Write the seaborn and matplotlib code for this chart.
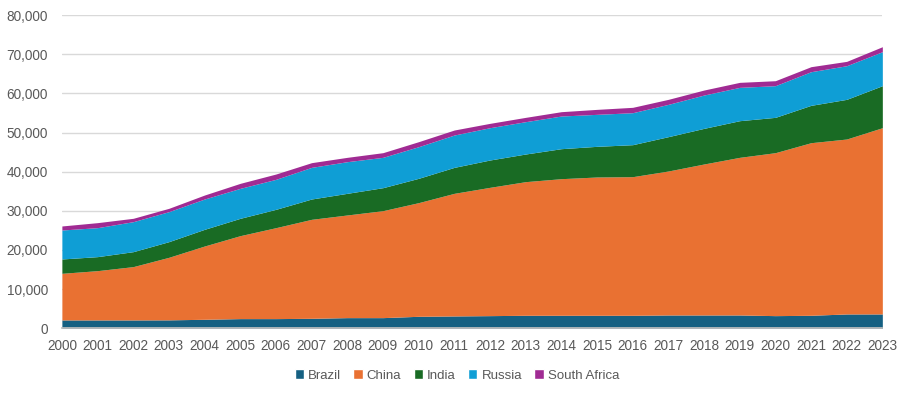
import numpy as np
import pandas as pd
import seaborn as sns
from matplotlib import pyplot as plt
from matplotlib.ticker import FuncFormatter, MultipleLocator
from matplotlib.patches import Patch

years = list(range(2000, 2024))
brazil = [2130, 2130, 2130, 2150, 2300, 2470, 2470, 2550, 2720, 2720, 3060, 3150,
          3230, 3320, 3320, 3320, 3320, 3400, 3400, 3400, 3230, 3320, 3660, 3660]
china = [11910, 12590, 13620, 15980, 18720, 21190, 23230, 25280, 26220, 27320, 29030, 31320,
         32770, 34130, 34890, 35320, 35400, 36770, 38560, 40260, 41620, 44080, 44680, 47570]
india = [3660, 3580, 3820, 4000, 4260, 4430, 4680, 5190, 5530, 5870, 6210, 6630,
         6980, 7060, 7660, 7830, 8170, 8770, 9100, 9360, 9020, 9540, 10130, 10730]
russia = [7400, 7400, 7660, 7660, 7740, 7650, 7660, 8080, 8080, 7750, 8080, 8260,
          8250, 8260, 8340, 8170, 8170, 8250, 8510, 8510, 8090, 8590, 8590, 8680]
south_africa = [1030, 1280, 860, 850, 1020, 1280, 1360, 1200, 1110, 1190, 1280, 1280,
                1110, 1100, 1110, 1270, 1370, 1280, 1280, 1280, 1270, 1280, 1110, 1270]

names = ['Brazil', 'China', 'India', 'Russia', 'South Africa']
colors = ['#156082', '#E97132', '#196B24', '#0F9ED5', '#A02B93']

df = pd.DataFrame({'Year': years, 'Brazil': brazil, 'China': china, 'India': india,
                   'Russia': russia, 'South Africa': south_africa})

sns.set_theme(style='white')
plt.rcParams['font.family'] = ['Liberation Sans', 'DejaVu Sans']
text_col = '#595959'

fig, ax = plt.subplots(figsize=(9.1, 3.96), dpi=100)
fig.subplots_adjust(left=0.068, right=0.9696, top=0.962, bottom=0.171)

ax.stackplot(df['Year'], [df[n] for n in names], colors=colors, linewidth=0)

ax.set_xlim(2000, 2023)
ax.set_ylim(0, 80000)
ax.yaxis.set_major_locator(MultipleLocator(10000))
ax.yaxis.set_major_formatter(FuncFormatter(lambda v, p: f'{int(v):,}'))
ax.set_xticks(years)
ax.grid(axis='y', color='#d9d9d9', linewidth=1)
ax.set_axisbelow(True)
for s in ['top', 'right', 'left']:
    ax.spines[s].set_visible(False)
ax.spines['bottom'].set_color('#bfbfbf')
ax.tick_params(axis='x', colors='#bfbfbf', length=4, width=1, direction='out',
               labelcolor=text_col, labelsize=9.8, pad=4)
ax.tick_params(axis='y', length=0, labelcolor=text_col, labelsize=9.8, pad=10)

handles = [Patch(facecolor=c, label=n) for n, c in zip(names, colors)]
fig.legend(handles=handles, loc='center', bbox_to_anchor=(0.502, 0.052), ncol=5,
           frameon=False, fontsize=9.5, handlelength=0.7, handleheight=0.7,
           handletextpad=0.3, columnspacing=0.95, labelcolor=text_col)

plt.savefig('out.png', dpi=100)
